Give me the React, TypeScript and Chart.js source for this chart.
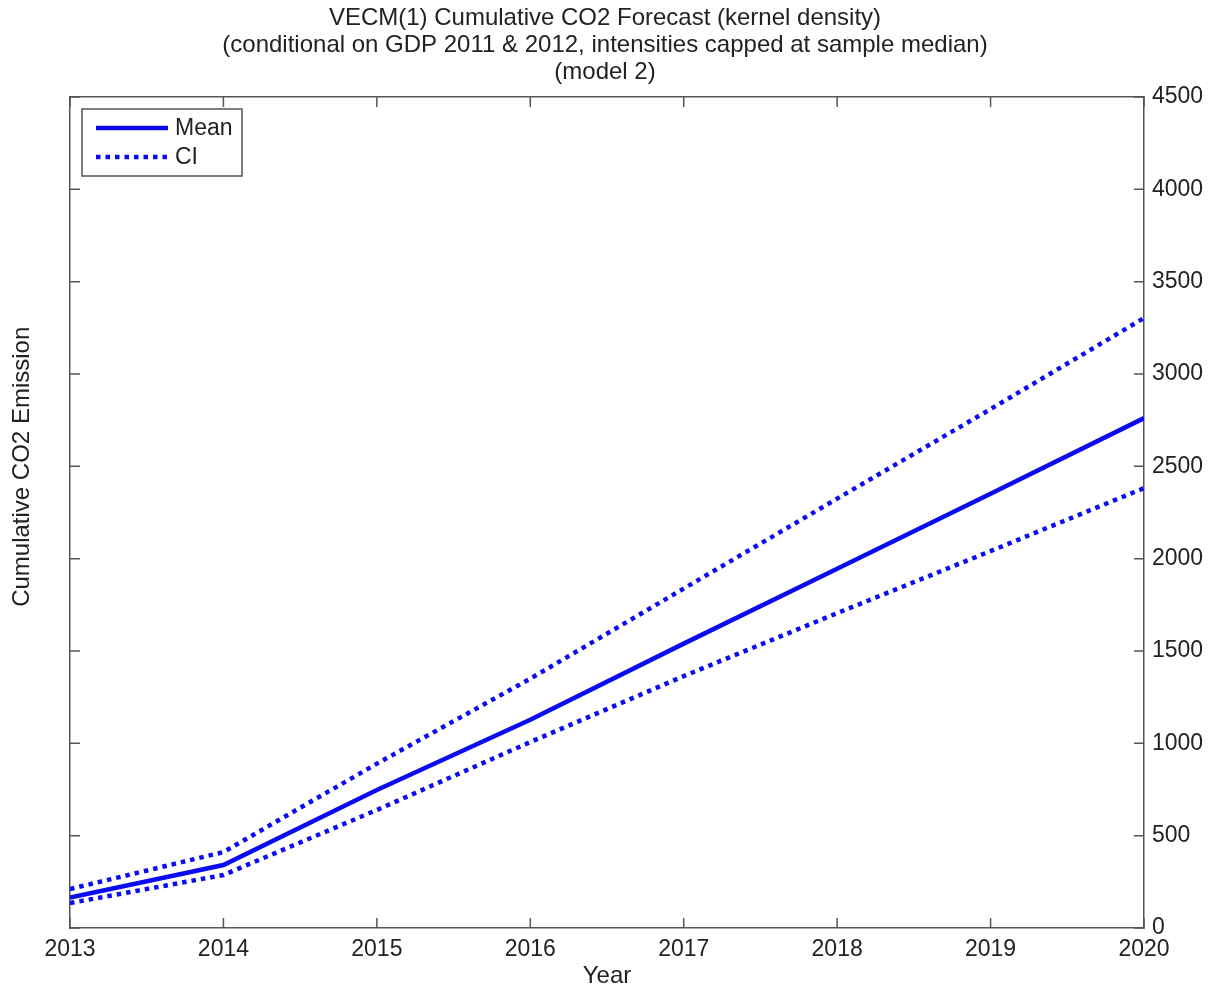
import React, { useEffect, useRef } from "react";
import { Chart, registerables } from "chart.js";

Chart.register(...registerables);

const years = [2013, 2014, 2015, 2016, 2017, 2018, 2019, 2020];
const meanValues = [165, 341, 747, 1128, 1540, 1945, 2352, 2761];
const ciUpper = [211, 411, 890, 1350, 1838, 2325, 2810, 3303];
const ciLower = [135, 287, 639, 1007, 1364, 1705, 2041, 2382];
const yTickStep = 500;
const yMax = 4500;
const titleLines = [
  "VECM(1) Cumulative CO2 Forecast (kernel density)",
  "(conditional on GDP 2011 & 2012, intensities capped at sample median)",
  "(model 2)",
];
const yAxisTitle = "Cumulative CO2 Emission";
const legendLabels = ["Mean", "CI"];

const FONT = "'Liberation Sans', Arial, Helvetica, sans-serif";
const BLUE = "#0b0bf2";
const AXIS = "#555555";
const TEXT = "#222222";

const toXY = (vals: number[]) => years.map((x, i) => ({ x, y: vals[i] }));

const insideTicks = {
  id: "insideTicks",
  afterDraw(chart: any) {
    const { ctx, chartArea } = chart;
    const len = 10;
    ctx.save();
    ctx.strokeStyle = AXIS;
    ctx.lineWidth = 1.5;
    ctx.beginPath();
    const xs = chart.scales.x;
    xs.ticks.forEach((t: any) => {
      const px = xs.getPixelForValue(t.value);
      ctx.moveTo(px, chartArea.bottom);
      ctx.lineTo(px, chartArea.bottom - len);
      ctx.moveTo(px, chartArea.top);
      ctx.lineTo(px, chartArea.top + len);
    });
    const ys = chart.scales.y;
    ys.ticks.forEach((t: any) => {
      const py = ys.getPixelForValue(t.value);
      ctx.moveTo(chartArea.right, py);
      ctx.lineTo(chartArea.right - len, py);
      ctx.moveTo(chartArea.left, py);
      ctx.lineTo(chartArea.left + len, py);
    });
    ctx.stroke();
    ctx.restore();
  },
};

const leftTitle = {
  id: "leftTitle",
  afterDraw(chart: any) {
    const { ctx, chartArea } = chart;
    const ys = chart.scales.y;
    // MATLAB places the label slightly above the axis centre
    const cy = ys.getPixelForValue(yMax * 0.555);
    ctx.save();
    ctx.translate(chartArea.left - 48, cy);
    ctx.rotate(-Math.PI / 2);
    ctx.fillStyle = TEXT;
    ctx.font = `24px ${FONT}`;
    ctx.textAlign = "center";
    ctx.textBaseline = "middle";
    ctx.fillText(yAxisTitle, 0, 0);
    ctx.restore();
  },
};

const boxLegend = {
  id: "boxLegend",
  afterDraw(chart: any) {
    const { ctx, chartArea } = chart;
    const x0 = chartArea.left + 12;
    const y0 = chartArea.top + 12;
    const w = 160;
    const h = 67;
    ctx.save();
    ctx.fillStyle = "#ffffff";
    ctx.fillRect(x0, y0, w, h);
    ctx.strokeStyle = AXIS;
    ctx.lineWidth = 1.5;
    ctx.strokeRect(x0, y0, w, h);
    const rows = [y0 + 19, y0 + 48];
    chart.data.datasets.slice(0, 2).forEach((ds: any, i: number) => {
      ctx.beginPath();
      ctx.strokeStyle = ds.borderColor;
      ctx.lineWidth = ds.borderWidth;
      ctx.setLineDash(ds.borderDash || []);
      ctx.moveTo(x0 + 14, rows[i]);
      ctx.lineTo(x0 + 86, rows[i]);
      ctx.stroke();
    });
    ctx.setLineDash([]);
    ctx.fillStyle = TEXT;
    ctx.font = `23px ${FONT}`;
    ctx.textBaseline = "middle";
    ctx.textAlign = "left";
    legendLabels.forEach((l, i) => ctx.fillText(l, x0 + 93, rows[i] + 1));
    ctx.restore();
  },
};

export default function App() {
  const ref = useRef<HTMLCanvasElement>(null);
  useEffect(() => {
    if (!ref.current) return;
    const chart = new Chart(ref.current, {
      type: "line",
      data: {
        datasets: [
          {
            label: "Mean",
            data: toXY(meanValues),
            borderColor: BLUE,
            borderWidth: 4.5,
            pointRadius: 0,
            tension: 0,
          },
          {
            label: "CI",
            data: toXY(ciUpper),
            borderColor: BLUE,
            borderWidth: 4.5,
            borderDash: [4.5, 5],
            pointRadius: 0,
            tension: 0,
          },
          {
            label: "CI lower",
            data: toXY(ciLower),
            borderColor: BLUE,
            borderWidth: 4.5,
            borderDash: [4.5, 5],
            pointRadius: 0,
            tension: 0,
          },
        ],
      },
      options: {
        animation: false,
        responsive: true,
        maintainAspectRatio: false,
        layout: { padding: 0 },
        plugins: {
          legend: { display: false },
          tooltip: { enabled: false },
          title: {
            display: true,
            text: titleLines,
            color: TEXT,
            font: { family: FONT, size: 24, weight: "normal", lineHeight: 1.125 },
            padding: { top: 5, bottom: 0 },
          },
        },
        scales: {
          x: {
            type: "linear",
            position: "bottom",
            min: years[0],
            max: years[years.length - 1],
            afterFit: (s: any) => {
              s.height = 63;
            },
            ticks: {
              stepSize: 1,
              padding: 8,
              color: TEXT,
              font: { family: FONT, size: 23 },
              callback: (v: any) => String(v),
              maxRotation: 0,
            },
            grid: { display: false, drawTicks: false },
            border: { display: true, color: AXIS, width: 1.5 },
            title: {
              display: true,
              text: "Year",
              color: TEXT,
              font: { family: FONT, size: 24 },
              padding: { top: 0, bottom: 0 },
            },
          },
          x2: {
            type: "linear",
            position: "top",
            min: years[0],
            max: years[years.length - 1],
            afterFit: (s: any) => {
              s.height = 11;
            },
            ticks: { display: false, stepSize: 1 },
            grid: { display: false, drawTicks: false },
            border: { display: true, color: AXIS, width: 1.5 },
          },
          y: {
            type: "linear",
            position: "right",
            min: 0,
            max: yMax,
            afterFit: (s: any) => {
              s.width = 66;
            },
            ticks: {
              stepSize: yTickStep,
              padding: 8,
              color: TEXT,
              font: { family: FONT, size: 23 },
              callback: (v: any) => String(v),
            },
            grid: { display: false, drawTicks: false },
            border: { display: true, color: AXIS, width: 1.5 },
          },
          y2: {
            type: "linear",
            position: "left",
            min: 0,
            max: yMax,
            afterFit: (s: any) => {
              s.width = 70;
            },
            ticks: { display: false, stepSize: yTickStep },
            grid: { display: false, drawTicks: false },
            border: { display: true, color: AXIS, width: 1.5 },
          },
        },
      } as any,
      plugins: [insideTicks, leftTitle, boxLegend],
    });
    return () => chart.destroy();
  }, []);
  return (
    <div style={{ position: "absolute", left: 0, top: 0, width: 1210, height: 991, background: "#fff" }}>
      <canvas ref={ref} />
    </div>
  );
}
